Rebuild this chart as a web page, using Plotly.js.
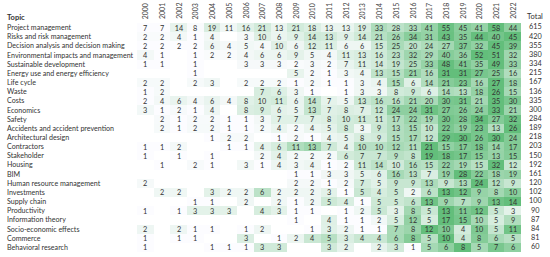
<!DOCTYPE html>
<html><head><meta charset="utf-8">
<script src="https://cdn.plot.ly/plotly-3.0.1.min.js"></script>
<style>html,body{margin:0;padding:0;background:#fff}#chart{width:550px;height:257px}</style>
</head><body><div id="chart"></div>
<script>
const years = ['2000','2001','2002','2003','2004','2005','2006','2007','2008','2009','2010','2011','2012','2013','2014','2015','2016','2017','2018','2019','2020','2021','2022'];
const topics = ['Project management','Risks and risk management','Decision analysis and decision making','Environmental impacts and management','Sustainable development','Energy use and energy efficiency','Life cycle','Waste','Costs','Economics','Safety','Accidents and accident prevention','Architectural design','Contractors','Stakeholder','Housing','BIM','Human resource management','Investments','Supply chain','Productivity','Information theory','Socio-economic effects','Commerce','Behavioral research'];
const n = null;
const projectManagement = [7,7,14,8,19,11,16,21,13,21,18,13,13,19,33,28,33,41,55,45,41,58,44];
const risks = [2,2,4,1,4,n,3,10,6,9,14,13,9,14,21,26,34,31,43,35,44,40,45];
const decision = [2,2,2,2,6,4,5,4,10,6,12,11,6,6,15,25,20,24,27,37,32,45,39];
const environmental = [4,1,n,1,2,2,4,6,6,9,5,4,11,13,16,23,32,29,40,36,52,51,32];
const sustainable = [1,1,n,1,n,n,3,3,3,2,3,2,7,11,14,19,25,33,48,41,35,49,33];
const energy = [n,n,n,1,n,n,n,n,n,5,2,1,3,4,13,15,21,16,31,31,27,25,16];
const lifeCycle = [2,2,n,2,3,n,2,2,2,1,2,1,1,3,4,15,6,14,21,23,16,27,18];
const waste = [1,2,n,n,n,n,n,7,6,3,1,n,1,3,3,8,9,6,14,13,18,26,15];
const costs = [2,4,6,4,6,4,8,10,11,6,14,7,5,13,16,16,21,20,30,31,21,35,30];
const economics = [3,1,2,1,4,n,8,9,6,5,13,7,8,7,12,24,24,31,27,26,24,33,21];
const safety = [n,2,1,2,2,1,1,3,7,7,7,8,10,11,11,17,22,19,30,28,34,27,32];
const accidents = [n,2,1,2,2,1,1,2,4,2,4,5,8,3,9,13,15,10,22,19,23,13,26];
const architectural = [n,n,n,n,1,2,2,n,1,2,1,4,5,8,9,15,17,12,29,30,26,30,24];
const contractors = [1,1,2,n,n,1,1,4,6,11,13,7,4,10,10,12,11,21,15,17,18,14,17];
const stakeholder = [1,n,1,n,1,n,n,2,4,2,2,2,6,7,7,9,8,19,18,17,15,13,15];
const housing = [n,1,n,2,1,n,3,1,4,3,4,1,2,11,14,10,16,15,22,19,15,32,12];
const bim = [n,n,n,n,n,n,n,n,n,1,1,3,3,5,6,16,13,7,19,28,22,18,19];
const humanResource = [2,n,n,n,n,n,n,n,n,2,2,1,2,7,5,9,9,13,9,13,24,12,9];
const investments = [n,2,2,n,3,2,2,6,2,2,2,3,1,5,4,5,2,6,13,12,9,8,10];
const supplyChain = [n,n,n,1,1,n,2,n,2,1,2,5,4,1,5,5,6,13,9,7,9,13,14];
const productivity = [1,n,1,3,3,3,n,4,3,1,1,n,1,2,5,3,8,5,13,11,12,5,3];
const informationTheory = [n,n,n,n,n,n,n,n,n,1,n,4,1,1,2,5,12,5,17,15,10,5,9];
const socioEconomic = [2,n,2,1,1,n,1,2,n,n,1,3,2,1,1,7,8,12,10,4,10,5,11];
const commerce = [1,n,1,1,n,n,3,n,1,2,4,5,3,4,4,6,8,5,10,4,8,6,5];
const behavioral = [1,n,n,n,1,1,1,3,3,n,n,3,2,n,2,3,1,5,6,8,5,7,6];
const totals = [615,420,355,380,334,215,167,136,335,300,284,189,218,203,150,192,161,120,102,100,90,87,84,81,60];

const rows = [projectManagement,risks,decision,environmental,sustainable,energy,lifeCycle,waste,costs,economics,safety,accidents,architectural,contractors,stakeholder,housing,bim,humanResource,investments,supplyChain,productivity,informationTheory,socioEconomic,commerce,behavioral];

// per-row colour scale (like spreadsheet conditional formatting)
const z = rows.map(r => {
  const v = r.filter(x => x !== null);
  const mn = Math.min(...v), mx = Math.max(...v);
  return r.map(x => x === null ? null : (mx === mn ? 0 : (x - mn) / (mx - mn)));
});
const txt = rows.map(r => r.map(x => x === null ? '' : String(x)));
const xIdx = years.map((_, i) => i);
const totalX = 23.35;

const FONT = 'Lato, "Open Sans", sans-serif';
const TXT = '#333333';

const annotations = [];
years.forEach((y, i) => annotations.push({
  x: i, xref: 'x', y: 1, yref: 'paper', yanchor: 'bottom', xanchor: 'center', yshift: 2,
  text: y, textangle: -90, showarrow: false, font: {family: FONT, size: 7, color: '#444'}
}));
annotations.push({x: totalX, xref: 'x', y: 1, yref: 'paper', yanchor: 'bottom', xanchor: 'center', yshift: 0,
  text: 'Total', showarrow: false, font: {family: FONT, size: 7.5, color: TXT}});
annotations.push({x: -132/413, xref: 'paper', y: 1, yref: 'paper', yanchor: 'bottom', xanchor: 'left', yshift: -1,
  text: '<b>Topic</b>', showarrow: false, font: {family: FONT, size: 7.5, color: TXT}});
topics.forEach(t => annotations.push({
  x: -132/413, xref: 'paper', y: t, yref: 'y', xanchor: 'left', yanchor: 'middle',
  text: t, showarrow: false, font: {family: FONT, size: 7.1, color: TXT}
}));

const data = [
  {
    type: 'heatmap', x: xIdx, y: topics, z: z, text: txt, texttemplate: '%{text}',
    textfont: {family: FONT, size: 7.3, color: TXT},
    zmin: 0, zmax: 1, colorscale: [[0, '#FCFCFF'], [1, '#63BE7B']],
    showscale: false, hoverinfo: 'skip', xgap: 0, ygap: 0
  },
  {
    type: 'scatter', mode: 'text', x: topics.map(() => totalX), y: topics,
    text: totals.map(String), textposition: 'middle center',
    textfont: {family: FONT, size: 7.3, color: TXT}, hoverinfo: 'skip', showlegend: false
  }
];

const layout = {
  width: 550, height: 257,
  margin: {l: 137, r: 0, t: 23, b: 5},
  paper_bgcolor: '#fff', plot_bgcolor: '#fff',
  xaxis: {range: [-0.5, 24.23], showticklabels: false, showgrid: false, zeroline: false, ticks: '', fixedrange: true},
  yaxis: {type: 'category', range: [24.5, -0.5], showticklabels: false, showgrid: false, zeroline: false, ticks: '', fixedrange: true},
  annotations: annotations,
  showlegend: false
};
Plotly.newPlot('chart', data, layout, {displayModeBar: false, staticPlot: true});
</script></body></html>
